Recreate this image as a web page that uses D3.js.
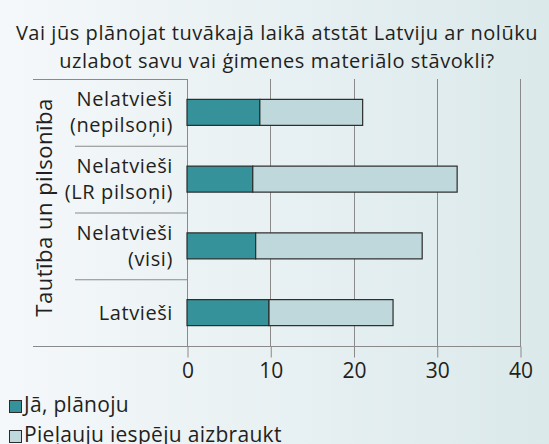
<!DOCTYPE html>
<html>
<head>
<meta charset="utf-8">
<script src="https://cdn.jsdelivr.net/npm/d3@7"></script>
<style>
  html, body { margin: 0; padding: 0; }
  body { width: 549px; height: 444px; overflow: hidden; }
  svg text { font-family: "Open Sans", "Noto Sans", sans-serif; fill: #231f20; }
</style>
</head>
<body>
<div id="chart"></div>
<script>
// Data
const categories = [['Nelatvieši', '(nepilsoņi)'], ['Nelatvieši', '(LR pilsoņi)'], ['Nelatvieši', '(visi)'], ['Latvieši']];
const seriesNames = ['Jā, plānoju', 'Pieļauju iespēju aizbraukt'];
const planValues = [8.75, 7.9, 8.25, 9.85];
const allowValues = [12.35, 24.55, 20.0, 14.9];
const xTicks = [0, 10, 20, 30, 40];
const titleLines = ['Vai jūs plānojat tuvākajā laikā atstāt Latviju ar nolūku', 'uzlabot savu vai ģimenes materiālo stāvokli?'];
const yTitle = 'Tautība un pilsonība';
const colors = ['#35929a', '#bfd8dc'];

const W = 549, H = 444;
const svg = d3.select('#chart').append('svg')
    .attr('width', W).attr('height', H);

// Background gradient
const grad = svg.append('defs').append('linearGradient')
    .attr('id', 'bg').attr('x1', 0).attr('x2', 1).attr('y1', 0).attr('y2', 0);
grad.append('stop').attr('offset', '0%').attr('stop-color', '#f5f8fa');
grad.append('stop').attr('offset', '100%').attr('stop-color', '#dbe9eb');
svg.append('rect').attr('width', W).attr('height', H).attr('fill', 'url(#bg)');

const plotTop = 79, plotBottom = 346;
const x = d3.scaleLinear().domain([0, 40]).range([187, 520]);
const y = d3.scaleBand().domain(d3.range(categories.length)).range([plotTop, plotBottom]);
const barH = 26;

// Title
svg.selectAll('.title')
    .data(titleLines)
    .enter().append('text')
    .attr('class', 'title')
    .attr('x', 277)
    .attr('y', (d, i) => 40 + i * 28)
    .attr('text-anchor', 'middle')
    .style('font-size', '20px')
    .style('letter-spacing', '0.55px')
    .text(d => d);

// Category frame lines
svg.append('line')
    .attr('x1', 33).attr('x2', x(0))
    .attr('y1', plotTop + 0.5).attr('y2', plotTop + 0.5)
    .attr('stroke', '#8a8a8a');
svg.selectAll('.sep')
    .data(d3.range(1, categories.length))
    .enter().append('line')
    .attr('class', 'sep')
    .attr('x1', 75).attr('x2', x(0))
    .attr('y1', d => y(d) + 0.5).attr('y2', d => y(d) + 0.5)
    .attr('stroke', '#8a8a8a');

// Grid lines
svg.selectAll('.grid')
    .data(xTicks)
    .enter().append('line')
    .attr('class', 'grid')
    .attr('x1', d => Math.round(x(d)) + 0.5).attr('x2', d => Math.round(x(d)) + 0.5)
    .attr('y1', plotTop).attr('y2', plotBottom)
    .attr('stroke', '#8a8a8a');

// X axis
const xAxis = svg.append('g')
    .attr('transform', `translate(0.5,${plotBottom + 0.5})`)
    .call(d3.axisBottom(x).tickValues(xTicks).tickSize(11).tickPadding(6).tickFormat(d3.format('d')));
xAxis.select('.domain').remove();
xAxis.selectAll('.tick line').attr('stroke', '#8a8a8a');
xAxis.selectAll('.tick text')
    .style('font-size', '21px')
    .attr('fill', '#231f20')
    .style('font-family', '"Open Sans", "Noto Sans", sans-serif');
svg.append('line')
    .attr('x1', 33).attr('x2', Math.round(x(40)) + 1)
    .attr('y1', plotBottom + 0.5).attr('y2', plotBottom + 0.5)
    .attr('stroke', '#8a8a8a');

// Bars (stacked)
const stacked = categories.map((c, i) => [
    { s: 0, x0: 0, x1: planValues[i], i },
    { s: 1, x0: planValues[i], x1: planValues[i] + allowValues[i], i }
]).flat();

svg.selectAll('.bar')
    .data(stacked)
    .enter().append('rect')
    .attr('class', 'bar')
    .attr('x', d => x(d.x0))
    .attr('y', d => y(d.i) + y.bandwidth() / 2 - barH / 2)
    .attr('width', d => x(d.x1) - x(d.x0))
    .attr('height', barH)
    .attr('fill', d => colors[d.s])
    .attr('stroke', '#2b2b2b')
    .attr('stroke-width', 1.2);

// Category labels
categories.forEach((lines, i) => {
    const cy = y(i) + y.bandwidth() / 2;
    const t = svg.append('text')
        .attr('text-anchor', 'end')
        .style('font-size', '20px')
        .style('letter-spacing', '0.6px');
    lines.forEach((ln, k) => {
        const off = lines.length === 1 ? 7 : (k === 0 ? -6 : 20);
        t.append('tspan').attr('x', 173).attr('y', cy + off).text(ln);
    });
});

// Y axis title
svg.append('text')
    .attr('transform', `translate(52,${(plotTop + plotBottom) / 2 - 5}) rotate(-90)`)
    .attr('text-anchor', 'middle')
    .style('font-size', '22px')
    .style('letter-spacing', '0.5px')
    .text(yTitle);

// Legend
const legend = svg.selectAll('.legend')
    .data(seriesNames)
    .enter().append('g')
    .attr('class', 'legend')
    .attr('transform', (d, i) => `translate(9,${400 + i * 30})`);
legend.append('rect')
    .attr('x', 0.5).attr('y', 0.5)
    .attr('width', 12).attr('height', 12)
    .attr('fill', (d, i) => colors[i])
    .attr('stroke', '#2b2b2b');
legend.append('text')
    .attr('x', 15).attr('y', 12)
    .style('font-size', '21px')
    .style('letter-spacing', '0.3px')
    .text(d => d);
</script>
</body>
</html>
